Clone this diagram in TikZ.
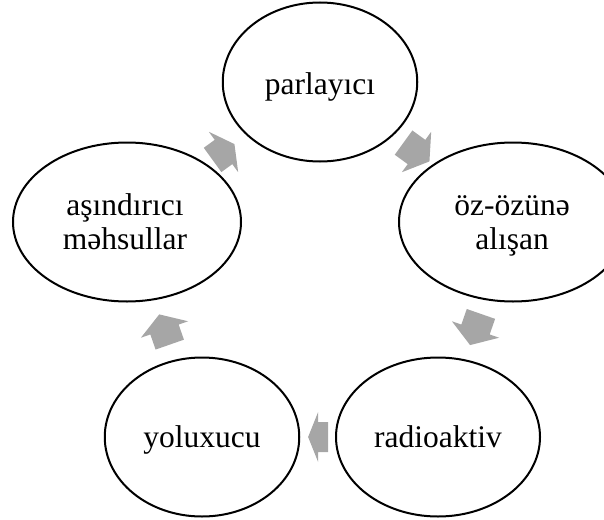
\documentclass[tikz,border=0pt]{standalone}
\usepackage{fontspec}
\setmainfont{Liberation Serif}
\usetikzlibrary{shapes.geometric,calc}
\definecolor{arrowgray}{RGB}{166,166,166}
\begin{document}
\begin{tikzpicture}[x=1pt,y=-1pt,
  oval/.style={ellipse, draw=black, line width=2pt, inner sep=0pt, minimum height=159pt},
  lbl/.style={anchor=base, inner sep=0pt, font=\fontsize{31.5}{33.5}\selectfont},
  cyc arrow/.pic={\fill[arrowgray] (-#1,-15) -- (0,-15) -- (0,-25) -- (#1,0) -- (0,25) -- (0,15) -- (-#1,15) -- cycle;},
  cycpos/.style={pos=0.5, sloped, allow upside down}
]
\useasboundingbox (0,0) rectangle (604,519);
\clip (0,0) rectangle (604,519);

% ellipses
\node[oval, minimum width=194.5pt] (p) at (320,82) {};
\node[oval, minimum width=228pt] (o) at (513,222) {};
\node[oval, minimum width=204pt] (r) at (438,437) {};
\node[oval, minimum width=194.5pt] (y) at (202,437) {};
\node[oval, minimum width=228pt] (a) at (127,222) {};

% labels
\node[lbl] (pt) at ($(p.center)+(0,12.5)$) {parlayıcı};
\node[lbl] (ot1) at ($(o.center)+(-1,-6.5)$) {öz-özünə};
\node[lbl] (ot2) at ($(o.center)+(-1,27)$) {alışan};
\node[lbl] (rt) at ($(r.center)+(0,10.5)$) {radioaktiv};
\node[lbl] (yt) at ($(y.center)+(0,10.5)$) {yoluxucu};
\node[lbl] (at1) at ($(a.center)+(-2,-6.5)$) {aşındırıcı};
\node[lbl] (at2) at ($(a.center)+(-2,27)$) {məhsullar};

% cycle arrows
\path (p.center) -- (o.center) pic[cycpos] {cyc arrow=16};
\path (o.center) -- (r.center) pic[cycpos] {cyc arrow=16.5};
\path (r.center) -- (y.center) pic[cycpos, pos=0.508] {cyc arrow=10};
\path (y.center) -- (a.center) pic[cycpos] {cyc arrow=16};
\path (a.center) -- (p.center) pic[cycpos] {cyc arrow=13.5};
\end{tikzpicture}
\end{document}
